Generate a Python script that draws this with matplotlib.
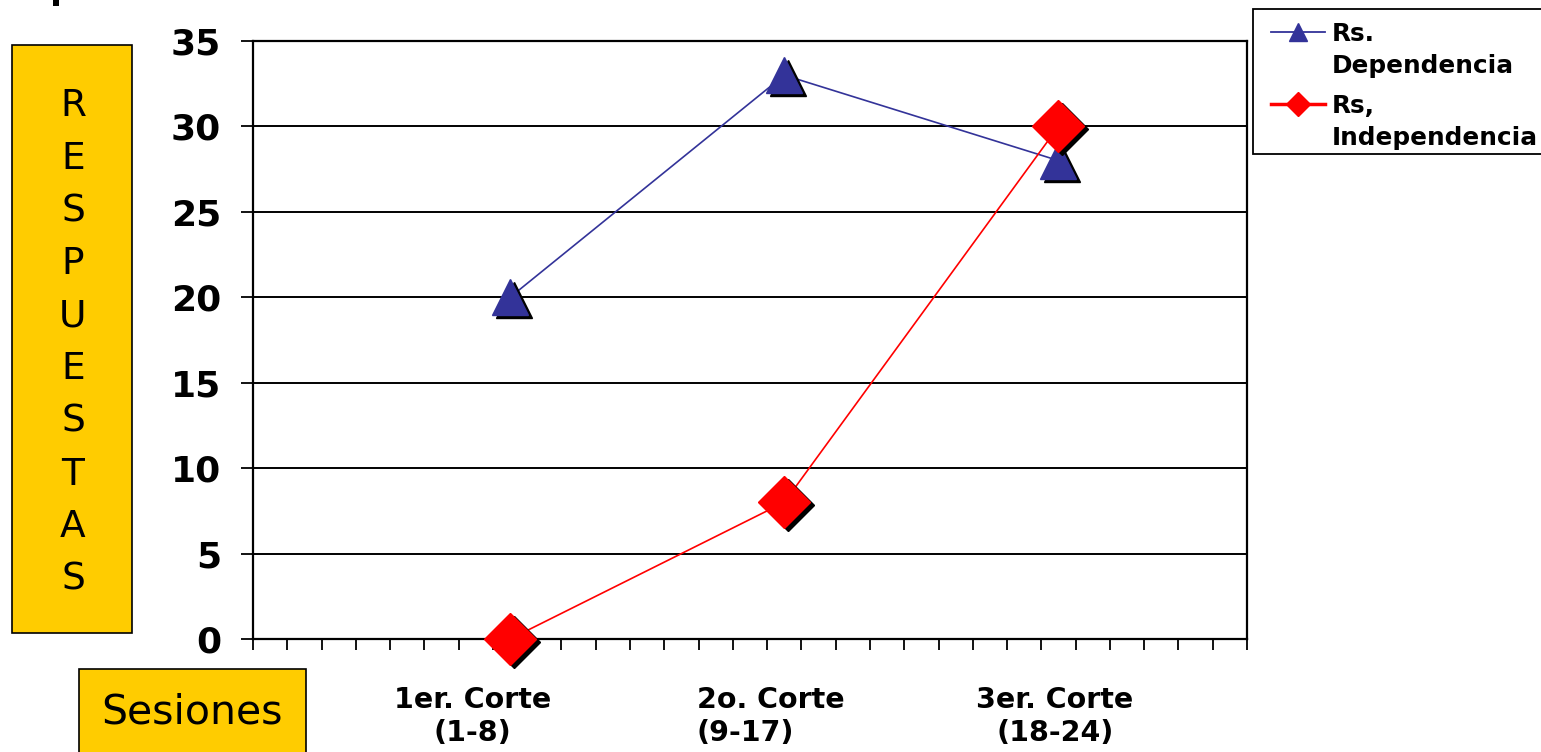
import matplotlib
matplotlib.use("Agg")
import matplotlib.pyplot as plt
from matplotlib.lines import Line2D
from matplotlib.patches import Rectangle
from matplotlib import transforms

# ---- data ----
categories = ["1er. Corte\n(1-8)", "2o. Corte\n(9-17)", "3er. Corte\n(18-24)"]
session_pos = [8, 16, 24]          # session (category) index of each cut
dependencia = [20, 33, 28]
independencia = [0, 8, 30]
series_names = ["Rs.\nDependencia", "Rs,\nIndependencia"]
y_ticks = [0, 5, 10, 15, 20, 25, 30, 35]
n_sessions = 29
y_title = "RESPUESTAS"
x_title = "Sesiones"

BLUE = "#333399"
RED = "#FF0000"
GOLD = "#FFCC00"

W, H = 1541, 752
fig = plt.figure(figsize=(W / 100, H / 100), dpi=100)


def fx(px):
    return px / W


def fy(py):
    return 1 - py / H


ax = fig.add_axes([fx(253), fy(639), fx(1247) - fx(253), fy(41) - fy(639)])

# category axis: points sit in the middle of each session slot
xs = [p - 0.5 for p in session_pos]

shadow = transforms.offset_copy(ax.transData, fig=fig, x=4, y=-3, units="dots")

ax.plot(xs, dependencia, color=BLUE, lw=1.2, zorder=3, clip_on=False)
ax.plot(xs, independencia, color=RED, lw=1.2, zorder=3, clip_on=False)
ax.plot(xs, dependencia, ls="none", marker="^", ms=26, color="black",
        transform=shadow, zorder=4, clip_on=False)
ax.plot(xs, dependencia, ls="none", marker="^", ms=26, color=BLUE,
        markeredgecolor=BLUE, zorder=5, clip_on=False)
ax.plot(xs, independencia, ls="none", marker="D", ms=26, color="black",
        transform=shadow, zorder=6, clip_on=False)
ax.plot(xs, independencia, ls="none", marker="D", ms=26, color=RED,
        markeredgecolor=RED, zorder=7, clip_on=False)

ax.set_xlim(0, n_sessions)
ax.set_ylim(0, 35)
ax.set_yticks(y_ticks)
ax.set_yticklabels([str(v) for v in y_ticks], fontsize=26, fontweight="bold")
ax.set_xticks(range(n_sessions + 1))
ax.set_xticklabels([])
ax.tick_params(axis="y", direction="out", length=9, width=1.3, pad=14)
ax.tick_params(axis="x", direction="out", length=8, width=1.3)
ax.grid(axis="y", color="black", lw=1.4)
ax.set_axisbelow(True)
for s in ax.spines.values():
    s.set_linewidth(1.6)
    s.set_color("black")

# category labels under the axis
label_x = [6.4, 15.1, 23.4]
label_align = ["center", "left", "center"]
btrans = transforms.blended_transform_factory(ax.transData, fig.transFigure)
for lx, lab, al in zip(label_x, categories, label_align):
    ax.text(lx, fy(686), lab, transform=btrans, ha="center", va="top",
            multialignment=al, fontsize=20.5, fontweight="bold",
            linespacing=1.25)

# vertical title box
fig.add_artist(Rectangle((fx(12), fy(633)), fx(132) - fx(12), fy(45) - fy(633),
                         transform=fig.transFigure, facecolor=GOLD,
                         edgecolor="black", lw=1.2))
n = len(y_title)
top_c, bot_c = 106, 580
for i, ch in enumerate(y_title):
    yc = top_c + (bot_c - top_c) * i / (n - 1)
    fig.text(fx(73), fy(yc), ch, ha="center", va="center", fontsize=27)

# horizontal title box
fig.add_artist(Rectangle((fx(79), fy(770)), fx(306) - fx(79), fy(669) - fy(770),
                         transform=fig.transFigure, facecolor=GOLD,
                         edgecolor="black", lw=1.2))
fig.text(fx(192), fy(712), x_title, ha="center", va="center", fontsize=29.5)

# stray mark at the top-left edge
fig.add_artist(Rectangle((fx(53), fy(6)), fx(59) - fx(53), fy(0) - fy(6),
                         transform=fig.transFigure, facecolor="black",
                         edgecolor="none"))

# legend
fig.add_artist(Rectangle((fx(1253), fy(154)), fx(1560) - fx(1253), fy(9) - fy(154),
                         transform=fig.transFigure, facecolor="white",
                         edgecolor="black", lw=1.3))
leg_specs = [(BLUE, "^", 1.3, 13, 32), (RED, "D", 2.5, 12, 104)]
for (col, mk, lw, ms, yy), name in zip(leg_specs, series_names):
    fig.add_artist(Line2D([fx(1271), fx(1325)], [fy(yy), fy(yy)],
                          transform=fig.transFigure, color=col, lw=lw))
    fig.add_artist(Line2D([fx(1298)], [fy(yy)], transform=fig.transFigure,
                          ls="none", marker=mk, ms=ms, color=col))
    fig.text(fx(1332), fy(yy - 10), name, ha="left", va="top",
             fontsize=17.8, fontweight="bold", linespacing=1.4)

fig.savefig("out.png", dpi=100)
